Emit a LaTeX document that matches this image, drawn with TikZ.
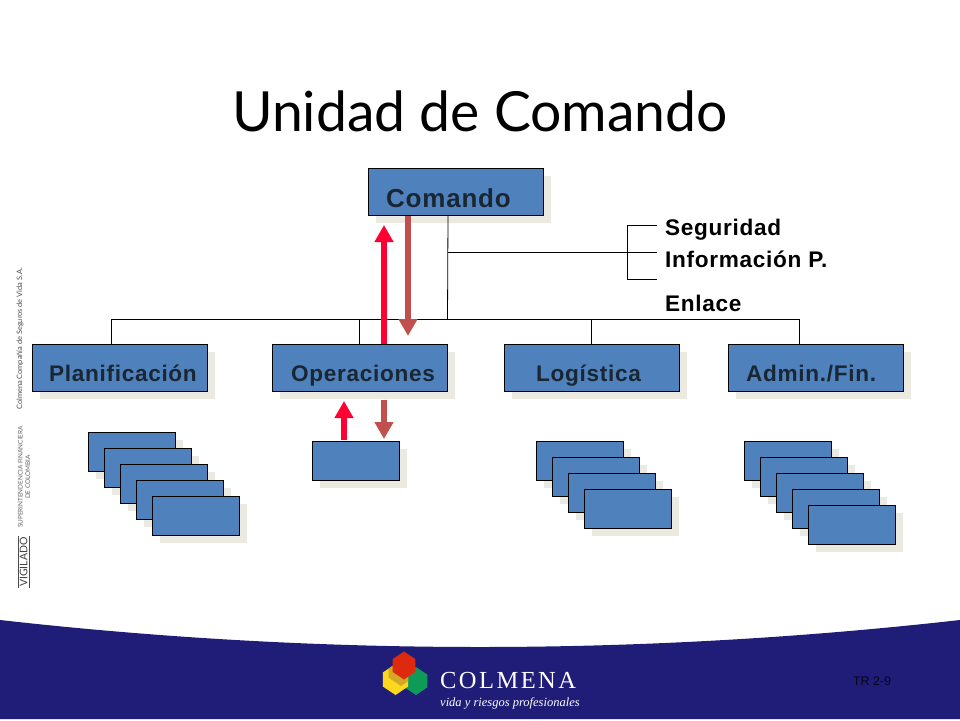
\documentclass[tikz,border=0pt]{standalone}
\usepackage{fontspec}
\setmainfont{Liberation Sans}
\newfontfamily\titlefont{Lato}
\newfontfamily\logofont{Liberation Serif}
\usetikzlibrary{arrows.meta,calc}
\definecolor{boxblue}{HTML}{4F81BD}
\definecolor{boxshade}{HTML}{ECE9E0}
\definecolor{labelink}{HTML}{1A2733}
\definecolor{bandnavy}{HTML}{1F1D77}
\definecolor{upred}{HTML}{FF0033}
\definecolor{downbrown}{HTML}{C0504D}
\definecolor{hexred}{HTML}{DD2A0E}
\definecolor{hexyellow}{HTML}{FBD81E}
\definecolor{hexgold}{HTML}{D2A824}
\definecolor{hexgreen}{HTML}{0E9B58}
\tikzset{
    orgbox/.style={draw=black, line width=0.8pt, fill=boxblue, anchor=north west,
        minimum width=175pt, minimum height=47pt, inner sep=0pt},
    subbox/.style={draw=black, line width=0.8pt, fill=boxblue, anchor=north west,
        minimum width=87pt, minimum height=39pt, inner sep=0pt},
    orgline/.style={draw=black, line width=0.8pt},
    uparrow/.style={draw=upred, line width=6pt, -{Triangle[width=18pt,length=17pt]}},
    downarrow/.style={draw=downbrown, line width=6pt, -{Triangle[width=18pt,length=17pt]}},
    sidelabel/.style={font=\bfseries\fontsize{22.6}{26}\selectfont, anchor=base west, inner sep=0pt, text=black}
}
\newcommand{\subboxat}[3]{%
    \fill[boxshade] (#2+8,#3+8) rectangle (#2+95,#3+47);
    \node[subbox] (#1) at (#2,#3) {};
}
% name, x, y, text offset, baseline offset, size, text
\newcommand{\orgboxat}[7]{%
    \fill[boxshade] (#2+8,#3+8) rectangle (#2+183,#3+55);
    \node[orgbox] (#1) at (#2,#3) {};
    \node[inner sep=0pt, font=\bfseries\fontsize{#6}{28}\selectfont, text=labelink, anchor=base west] (#1text) at (#2+#4,#3+#5) {\addfontfeature{LetterSpace=3}#7};
}
\newcommand{\hexlogo}[4]{%
    \fill[#1] (#2,#3-#4) -- (#2+.82*#4,#3-.45*#4) -- (#2+.82*#4,#3+.45*#4) -- (#2,#3+#4)
        -- (#2-.82*#4,#3+.45*#4) -- (#2-.82*#4,#3-.45*#4) -- cycle;
}
\begin{document}
\begin{tikzpicture}[x=1pt,y=-1pt]
    \useasboundingbox (0,0) rectangle (960,720);
    \fill[white] (0,0) rectangle (960,720);

    % Band and logo
    \fill[bandnavy] (0,620) .. controls (320,656) and (640,656) .. (960,620) -- (960,719) -- (0,719) -- cycle;
    \hexlogo{hexgreen}{416}{681}{14}
    \hexlogo{hexyellow}{395.5}{679.5}{15.5}
    \begin{scope}
        \clip (395.5,664) -- (408.2,672.5) -- (408.2,686.5) -- (395.5,695) -- (382.8,686.5) -- (382.8,672.5) -- cycle;
        \hexlogo{hexgold}{401}{671}{15}
    \end{scope}
    \hexlogo{hexred}{404}{665.5}{14}
    \node[inner sep=0pt, text=white, font=\logofont\fontsize{24.5}{26}\selectfont, anchor=base west] (logoname) at (440,688) {\addfontfeature{LetterSpace=10}COLMENA};
    \node[inner sep=0pt, text=white, font=\logofont\itshape\fontsize{12.5}{15}\selectfont, anchor=base west] (logotag) at (440,706) {vida y riesgos profesionales};
    \node[text=black!80!bandnavy, font=\fontsize{12.5}{14}\selectfont] (slidetag) at (872,681) {TR 2-9};

    % Title
    \node[text=black, font=\titlefont\fontsize{55.3}{60}\selectfont] (title) at (480,111) {Unidad de Comando};

    % Side texts
    \node[rotate=90, text=black!70, font=\titlefont\fontsize{7.4}{8}\selectfont] (sidea) at (20,339) {Colmena Compañía de Seguros de Vida S.A.};
    \node[rotate=90, text=black!60, align=center, font=\titlefont\fontsize{6.4}{7.5}\selectfont] (sideb) at (24,477) {SUPERINTENDENCIA FINANCIERA\\DE COLOMBIA};
    \node[rotate=90, text=black!75, inner sep=1.5pt, font=\titlefont\fontsize{10.5}{11}\selectfont] (sidec) at (23.5,562) {VIGILADO};
    \draw[black!70, line width=0.7pt] (sidec.north west) -- (sidec.north east);
    \draw[black!70, line width=0.7pt] (sidec.south west) -- (sidec.south east);

    % Boxes
    \orgboxat{comando}{368}{168}{18}{39}{26}{Comando}
    \orgboxat{planif}{32}{344}{17}{37}{22.6}{Planificación}
    \orgboxat{oper}{272}{344}{19}{37}{22.6}{Operaciones}
    \orgboxat{logis}{504}{344}{32}{37}{22.6}{Logística}
    \orgboxat{admin}{728}{344}{18}{37}{22.6}{Admin./Fin.}

    % Stacks
    \foreach \n/\x/\y in {1/88/432,2/104/448,3/120/464,4/136/480,5/152/496}
        {\subboxat{plan\n}{\x}{\y}}
    \subboxat{opsub}{312}{441}
    \foreach \n/\x/\y in {1/536/441,2/552/457,3/568/473,4/584/489}
        {\subboxat{log\n}{\x}{\y}}
    \foreach \n/\x/\y in {1/744/441,2/760/457,3/776/473,4/792/489,5/808/505}
        {\subboxat{adm\n}{\x}{\y}}

    % Lines
    \coordinate (busleft) at (111,319);
    \coordinate (busright) at (799,319);
    \coordinate (busmid) at (447.5,319);
    \coordinate (opdrop) at (359,319);
    \coordinate (logdrop) at (591,319);
    \coordinate (staffa) at (448,252);
    \coordinate (staffb) at (627,252);
    \coordinate (seguridad) at (657,225);
    \coordinate (informacion) at (657,252);
    \coordinate (enlace) at (657,279);
    \draw[orgline] (comando.south -| staffa) -- (busmid);
    \draw[orgline] (planif.north -| busleft) -- (busleft) -- (busright) -- (admin.north -| busright);
    \draw[orgline] (opdrop) -- (oper.north -| opdrop);
    \draw[orgline] (logdrop) -- (logis.north -| logdrop);
    \draw[orgline] (staffa) -- (informacion);
    \draw[orgline] (seguridad) -| (staffb) |- (enlace);

    % Arrows
    \coordinate (opup) at (384,225);
    \coordinate (opdown) at (408,336);
    \coordinate (subup) at (344,401);
    \coordinate (subupstart) at (344,440);
    \coordinate (subdownstart) at (384,400);
    \coordinate (subdown) at (384,439);
    \draw[uparrow] (oper.north -| opup) -- (opup);
    \draw[downarrow] (comando.south -| opdown) -- (opdown);
    \draw[uparrow] (subupstart) -- (subup);
    \draw[downarrow] (subdownstart) -- (subdown);

    % Staff labels
    \node[sidelabel] (seglabel) at (665,235) {\addfontfeature{LetterSpace=3}Seguridad};
    \node[sidelabel] (inflabel) at (665,267) {\addfontfeature{LetterSpace=3}Información P.};
    \node[sidelabel] (enllabel) at (665,311) {\addfontfeature{LetterSpace=3}Enlace};
\end{tikzpicture}
\end{document}
